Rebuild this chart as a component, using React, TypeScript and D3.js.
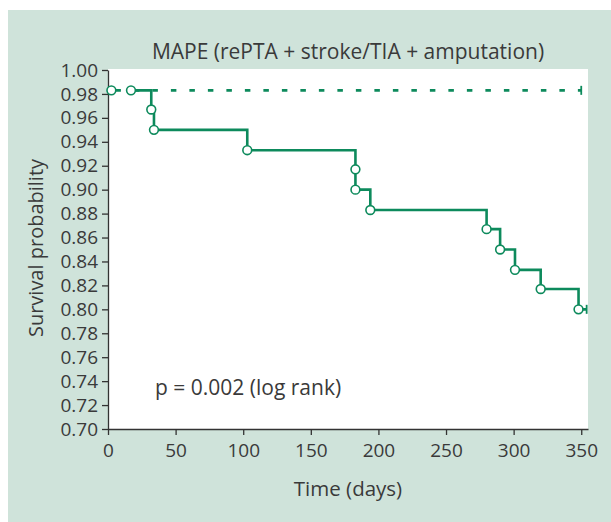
import { useEffect, useRef } from 'react';
import * as d3 from 'd3';

// Kaplan-Meier steps (days, survival)
const solidTimes = [17, 32, 34, 103, 183, 183, 194, 280, 290, 301, 320, 348];
const solidSurv = [0.983, 0.967, 0.95, 0.933, 0.917, 0.9, 0.883, 0.867, 0.85, 0.833, 0.817, 0.8];
const solidEnd = 354;

const dashedTimes = [2.5];
const dashedSurv = [0.983];
const dashedEnd = 350;

const xTicks = [0, 50, 100, 150, 200, 250, 300, 350];
const yTicks = d3.range(0.7, 1.0001, 0.02);

const App = () => {
    const svgRef = useRef<SVGSVGElement>(null);

    useEffect(() => {
        const svg = d3.select(svgRef.current);
        svg.selectAll('*').remove();

        const width = 611;
        const height = 522;
        const margin = { top: 70, right: 23, bottom: 93, left: 108 };
        const green = '#0d8a5c';
        const textColor = '#3a3a3a';
        const font = '"Open Sans", sans-serif';

        svg.append('rect')
            .attr('x', 8)
            .attr('y', 10)
            .attr('width', width - 8)
            .attr('height', height - 10)
            .attr('fill', '#cfe3da');

        const x = d3.scaleLinear().domain([0, 355]).range([margin.left, width - margin.right]);
        const y = d3.scaleLinear().domain([0.7, 1.0]).range([height - margin.bottom, margin.top]);

        svg.append('rect')
            .attr('x', margin.left)
            .attr('y', margin.top - 1)
            .attr('width', width - margin.right - margin.left)
            .attr('height', height - margin.bottom - margin.top + 1)
            .attr('fill', '#fff');

        const xAxis = svg
            .append('g')
            .attr('transform', `translate(0,${height - margin.bottom})`)
            .call(d3.axisBottom(x).tickValues(xTicks).tickSize(6).tickPadding(9).tickSizeOuter(0));
        const yAxis = svg
            .append('g')
            .attr('transform', `translate(${margin.left},0)`)
            .call(
                d3
                    .axisLeft(y)
                    .tickValues(yTicks)
                    .tickFormat(d3.format('.2f'))
                    .tickSize(6)
                    .tickPadding(4)
                    .tickSizeOuter(0),
            );

        [xAxis, yAxis].forEach((g) => {
            g.selectAll('path').attr('stroke', '#333').attr('stroke-width', 1.3);
            g.selectAll('line').attr('stroke', '#333').attr('stroke-width', 1.3);
            g.selectAll('text')
                .attr('fill', textColor)
                .attr('font-family', font)
                .attr('font-size', '19px');
        });

        // solid group
        const solidPts: [number, number][] = solidTimes.map((t, i) => [t, solidSurv[i]]);
        const solidLinePts: [number, number][] = [...solidPts, [solidEnd, solidSurv[solidSurv.length - 1]]];
        const stepLine = d3
            .line<[number, number]>()
            .x((d) => x(d[0]))
            .y((d) => y(d[1]))
            .curve(d3.curveStepAfter);

        svg.append('path')
            .datum(solidLinePts)
            .attr('fill', 'none')
            .attr('stroke', green)
            .attr('stroke-width', 2.6)
            .attr('d', stepLine);

        // dashed group
        const dashedPts: [number, number][] = dashedTimes.map((t, i) => [t, dashedSurv[i]]);
        const dashedLinePts: [number, number][] = [...dashedPts, [dashedEnd, dashedSurv[dashedSurv.length - 1]]];
        svg.append('path')
            .datum(dashedLinePts)
            .attr('fill', 'none')
            .attr('stroke', green)
            .attr('stroke-width', 2.6)
            .attr('stroke-dasharray', '5.5,13')
            .attr('stroke-dashoffset', -4)
            .attr('d', stepLine);

        // censor ticks at the ends
        [
            [solidEnd, solidSurv[solidSurv.length - 1]],
            [dashedEnd, dashedSurv[dashedSurv.length - 1]],
        ].forEach(([t, s]) => {
            svg.append('line')
                .attr('x1', x(t))
                .attr('x2', x(t))
                .attr('y1', y(s) - 4.5)
                .attr('y2', y(s) + 4.5)
                .attr('stroke', green)
                .attr('stroke-width', 1.8);
        });

        svg.selectAll('.evt')
            .data([...solidPts, ...dashedPts])
            .enter()
            .append('circle')
            .attr('class', 'evt')
            .attr('cx', (d) => x(d[0]))
            .attr('cy', (d) => y(d[1]))
            .attr('r', 4.4)
            .attr('fill', '#fff')
            .attr('stroke', green)
            .attr('stroke-width', 1.6);

        const addLabel = (txt: string, xx: number, yy: number, anchor: string, size: number, rotate = false) => {
            svg.append('text')
                .attr('transform', rotate ? 'rotate(-90)' : null)
                .attr('x', xx)
                .attr('y', yy)
                .attr('text-anchor', anchor)
                .attr('font-family', font)
                .attr('font-size', `${size}px`)
                .attr('fill', textColor)
                .text(txt);
        };

        const midX = (margin.left + width - margin.right) / 2;
        addLabel('MAPE (rePTA + stroke/TIA + amputation)', midX, 59, 'middle', 21);
        addLabel('Time (days)', midX, 496, 'middle', 20.5);
        addLabel('Survival probability', -248, 43, 'middle', 20, true);
        addLabel('p = 0.002 (log rank)', 155, 395, 'start', 21);
    }, []);

    return (
        <div>
            <svg
                ref={svgRef}
                width={611}
                height={522}
                style={{ position: 'absolute', left: 0, top: 0 }}
            ></svg>
        </div>
    );
};

export default App;
